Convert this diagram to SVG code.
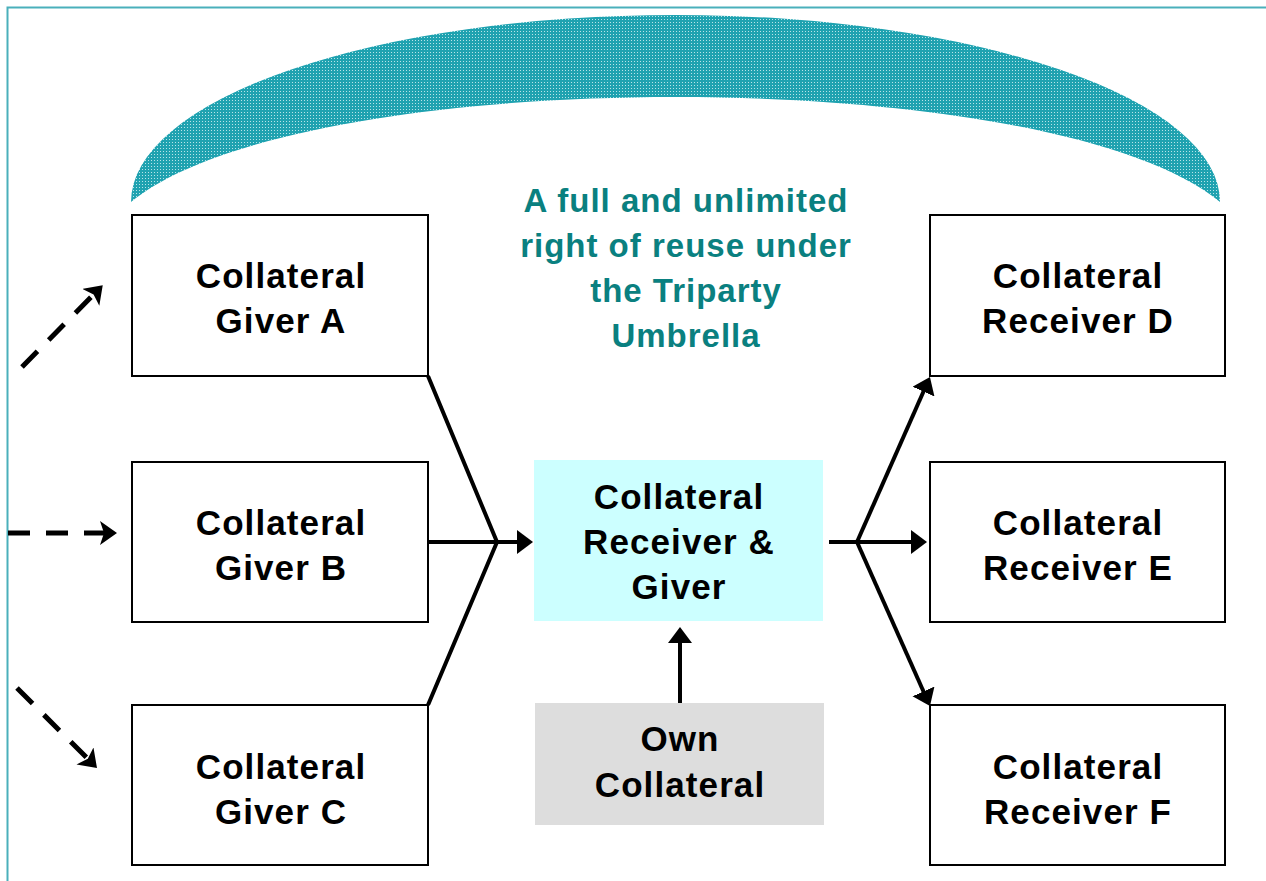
<svg xmlns="http://www.w3.org/2000/svg" width="1266" height="881" viewBox="0 0 1266 881">
<defs>
<style>
.box{fill:#fff;stroke:#000;stroke-width:2}
.lbl{font-family:"Liberation Sans",Arial,sans-serif;font-weight:bold;font-size:35px;letter-spacing:1.1px;fill:#000;text-anchor:middle}
.teal{font-family:"Liberation Sans",Arial,sans-serif;font-weight:bold;font-size:33px;letter-spacing:1px;fill:#0a8080;text-anchor:middle}
.solid{fill:none;stroke:#000;stroke-width:4}
.dash{fill:none;stroke:#000;stroke-width:5;stroke-dasharray:22 16}
</style>
<marker id="ah" markerUnits="userSpaceOnUse" markerWidth="17" markerHeight="26" refX="5" refY="12" orient="auto">
<path d="M0,0 L16,12 L0,24 Z" fill="#000"/>
</marker>
<marker id="ahd" markerUnits="userSpaceOnUse" markerWidth="18" markerHeight="26" refX="4" refY="12" orient="auto">
<path d="M0,0 L17,12 L0,24 L4,12 Z" fill="#000"/>
</marker>
<pattern id="dots" patternUnits="userSpaceOnUse" width="3" height="3">
<rect width="3" height="3" fill="#1fa2b0"/>
<rect x="1" y="1" width="1" height="1" fill="#b8e4e8"/>
</pattern>
</defs>
<rect width="1266" height="881" fill="#fff"/>
<path d="M7.5,881 V7.5 H1266" fill="none" stroke="#4ab0bb" stroke-width="2"/>
<g id="umbrella">
<path d="M131,202 A544.5,187 0 0 1 1220,202 C1051,62 300,62 131,202 Z" fill="url(#dots)"/>
<text class="teal" x="686" y="212">A full and unlimited</text>
<text class="teal" x="686" y="257">right of reuse under</text>
<text class="teal" x="686" y="302">the Triparty</text>
<text class="teal" x="686" y="347">Umbrella</text>
</g>
<g id="giverA"><rect class="box" x="132" y="215" width="296" height="161"/><text class="lbl" x="281" y="288">Collateral</text><text class="lbl" x="281" y="333">Giver A</text></g>
<g id="giverB"><rect class="box" x="132" y="462" width="296" height="160"/><text class="lbl" x="281" y="535">Collateral</text><text class="lbl" x="281" y="580">Giver B</text></g>
<g id="giverC"><rect class="box" x="132" y="705" width="296" height="160"/><text class="lbl" x="281" y="779">Collateral</text><text class="lbl" x="281" y="824">Giver C</text></g>
<g id="receiverD"><rect class="box" x="930" y="215" width="295" height="161"/><text class="lbl" x="1078" y="288">Collateral</text><text class="lbl" x="1078" y="333">Receiver D</text></g>
<g id="receiverE"><rect class="box" x="930" y="462" width="295" height="160"/><text class="lbl" x="1078" y="535">Collateral</text><text class="lbl" x="1078" y="580">Receiver E</text></g>
<g id="receiverF"><rect class="box" x="930" y="705" width="295" height="160"/><text class="lbl" x="1078" y="779">Collateral</text><text class="lbl" x="1078" y="824">Receiver F</text></g>
<g id="center"><rect x="534" y="460" width="289" height="161" fill="#ccffff"/><text class="lbl" x="679" y="509">Collateral</text><text class="lbl" x="679" y="554">Receiver &amp;</text><text class="lbl" x="679" y="599">Giver</text></g>
<g id="own"><rect x="535" y="703" width="289" height="122" fill="#dddddd"/><text class="lbl" x="680" y="751">Own</text><text class="lbl" x="680" y="797">Collateral</text></g>
<g id="connectors">
<path class="solid" d="M428,376 L497,542 L428,705"/>
<path class="solid" d="M428,542 L522,542" marker-end="url(#ah)"/>
<path class="solid" d="M829,542 L916,542" marker-end="url(#ah)"/>
<path class="solid" d="M857,542 L925.5,387.0" marker-end="url(#ah)"/>
<path class="solid" d="M857,542 L925.5,696.0" marker-end="url(#ah)"/>
<path class="solid" d="M680,703 L680,638" stroke-width="3.5" marker-end="url(#ah)"/>
<path class="dash" d="M22,367 L93.6,294.5" marker-end="url(#ahd)"/>
<path class="dash" d="M8,533 L104,533" marker-end="url(#ahd)"/>
<path class="dash" d="M17,688 L87.8,758.8" marker-end="url(#ahd)"/>
</g>
</svg>
